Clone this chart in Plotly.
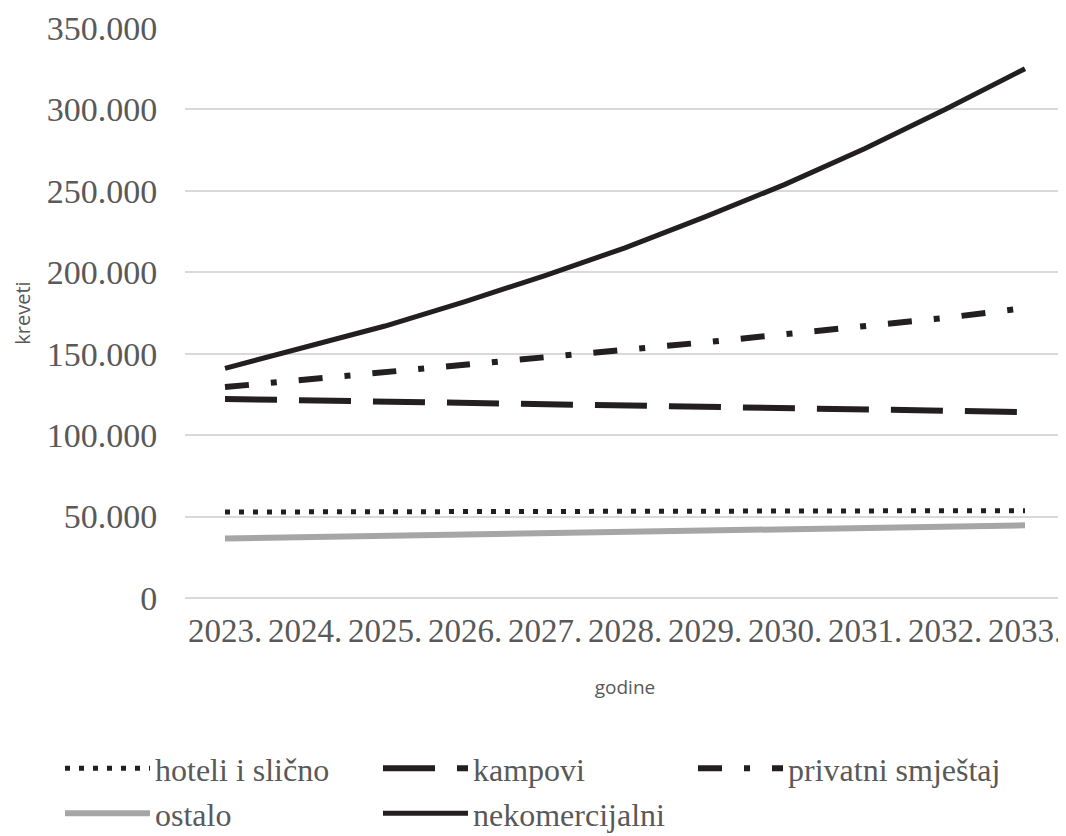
import plotly.graph_objects as go

years = ["2023.", "2024.", "2025.", "2026.", "2027.", "2028.", "2029.", "2030.", "2031.", "2032.", "2033."]

hoteli = [52800, 52900, 53000, 53050, 53150, 53200, 53300, 53400, 53450, 53550, 53650]
kampovi = [122200, 121400, 120600, 119800, 119000, 118200, 117400, 116600, 115800, 115000, 114200]
privatni = [129500, 134000, 138500, 143000, 147500, 152000, 157000, 162000, 167000, 172000, 178000]
ostalo = [36600, 37400, 38200, 39000, 39800, 40600, 41400, 42200, 43000, 43800, 44600]
nekomercijalni = [141000, 154000, 167000, 182000, 198000, 215000, 234000, 254000, 276000, 300000, 325000]

ytick_vals = [0, 50000, 100000, 150000, 200000, 250000, 300000, 350000]
ytick_text = ["0", "50.000", "100.000", "150.000", "200.000", "250.000", "300.000", "350.000"]

BLACK = "#231f20"
GRAY = "#a6a6a6"
TXT = "#595959"
SERIF = "Liberation Serif, Times New Roman, serif"
SANS = "Open Sans, Liberation Sans, sans-serif"

W, H = 1058, 828  # page body has an 8px margin
ML, MR, MT, MB = 177, 1, 20, 238

fig = go.Figure()
fig.add_trace(go.Scatter(x=years, y=hoteli, name="hoteli i slično", mode="lines",
                         legend="legend",
                         line=dict(color=BLACK, width=5, dash="5px,9px")))
fig.add_trace(go.Scatter(x=years, y=kampovi, name="kampovi", mode="lines",
                         legend="legend2",
                         line=dict(color=BLACK, width=6, dash="52px,22px")))
fig.add_trace(go.Scatter(x=years, y=privatni, name="privatni smještaj", mode="lines",
                         legend="legend3",
                         line=dict(color=BLACK, width=6, dash="24px,22px,6px,22px")))
fig.add_trace(go.Scatter(x=years, y=ostalo, name="ostalo", mode="lines",
                         legend="legend4",
                         line=dict(color=GRAY, width=6)))
fig.add_trace(go.Scatter(x=years, y=nekomercijalni, name="nekomercijalni", mode="lines",
                         legend="legend5",
                         line=dict(color=BLACK, width=5)))


def legend_at(xpx, ytop):
    return dict(
        orientation="h",
        xref="container", yref="container",
        x=xpx / W, xanchor="left",
        y=1 - ytop / H, yanchor="top",
        font=dict(family=SERIF, size=32, color=TXT),
        itemwidth=85,
        bgcolor="rgba(0,0,0,0)",
    )


fig.update_layout(
    width=W, height=H,
    margin=dict(l=ML, r=MR, t=MT, b=MB),
    plot_bgcolor="white", paper_bgcolor="white",
    showlegend=True,
    legend=legend_at(52, 733),
    legend2=legend_at(370, 733),
    legend3=legend_at(685, 733),
    legend4=legend_at(52, 778),
    legend5=legend_at(370, 778),
    xaxis=dict(
        type="category", range=[-0.5, 10.5],
        showgrid=False, zeroline=False, showline=False,
        tickangle=0,
        ticks="outside", ticklen=3, tickcolor="rgba(0,0,0,0)",
        tickfont=dict(family=SERIF, size=33, color=TXT),
        title=dict(text="godine", font=dict(family=SANS, size=19, color=TXT), standoff=33),
    ),
    yaxis=dict(
        range=[0, 350000],
        tickvals=ytick_vals, ticktext=ytick_text,
        showgrid=True, gridcolor="#d9d9d9", gridwidth=2,
        zeroline=True, zerolinecolor="#d9d9d9", zerolinewidth=2,
        showline=False,
        ticks="outside", ticklen=20, tickcolor="rgba(0,0,0,0)",
        tickfont=dict(family=SERIF, size=34, color=TXT),
        title=dict(text="kreveti", font=dict(family=SANS, size=20, color=TXT), standoff=10),
    ),
)

fig.write_html("out.html")
